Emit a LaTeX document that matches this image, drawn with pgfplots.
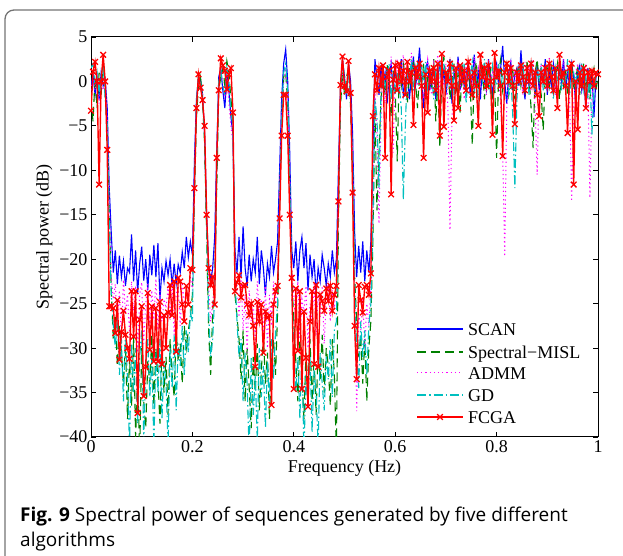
\documentclass[border=0pt]{standalone}
\usepackage{pgfplots}
\pgfplotsset{compat=1.18}
\usepackage{pgfplotstable}
\usepackage{fontspec}
\setmainfont{Liberation Serif}
\newfontfamily\capfont{Open Sans}
\definecolor{mblue}{rgb}{0,0,1}
\definecolor{mgreen}{rgb}{0,0.5,0}
\definecolor{mmag}{rgb}{1,0,1}
\definecolor{mcyan}{rgb}{0,0.75,0.75}
\definecolor{mred}{rgb}{1,0,0}
\definecolor{framegray}{rgb}{0.45,0.45,0.45}

\pgfplotstableread{
x S M A G F
0.000 -0.5 -2.0 -1.0 1.5 -3.3
0.004 0.8 -4.5 0.5 2.0 1.1
0.008 -1.5 0.5 -1.0 -0.5 2.2
0.012 0.5 -3.0 0.8 1.0 0.0
0.016 -2.0 1.0 -2.5 -1.5 -11.6
0.020 1.0 -1.5 0.2 0.5 0.0
0.024 -0.5 2.5 -1.0 1.8 3.0
0.028 0.2 -1.0 0.5 -2.0 0.0
0.032 -3.0 -6.0 -4.0 -5.0 -7.7
0.036 -12.0 -14.5 -13.0 -16.0 -25.3
0.040 -17.1 -23.5 -22.0 -24.0 -25.3
0.044 -21.5 -29.0 -24.5 -27.5 -25.5
0.048 -19.0 -26.5 -22.8 -30.0 -28.3
0.052 -22.8 -32.0 -27.0 -26.5 -24.6
0.056 -19.6 -27.5 -23.5 -33.0 -31.3
0.060 -22.0 -30.5 -29.0 -29.0 -28.2
0.064 -20.2 -34.0 -22.3 -36.0 -25.8
0.068 -23.0 -29.5 -26.0 -28.0 -28.5
0.072 -21.0 -38.0 -24.0 -33.5 -30.0
0.076 -21.5 -31.0 -28.5 -41.0 -31.2
0.080 -17.2 -36.5 -22.5 -29.5 -23.6
0.084 -22.5 -28.5 -25.8 -35.0 -28.7
0.088 -19.0 -40.0 -23.0 -30.0 -23.6
0.092 -23.8 -33.0 -30.5 -38.5 -37.3
0.096 -20.5 -42.0 -24.0 -31.0 -26.8
0.100 -18.6 -30.0 -22.6 -28.0 -25.3
0.104 -22.4 -36.0 -29.5 -40.5 -35.4
0.108 -20.0 -39.0 -25.0 -32.0 -32.1
0.112 -23.5 -31.5 -22.8 -29.0 -23.8
0.116 -19.5 -34.0 -27.5 -35.5 -30.2
0.120 -21.8 -28.5 -23.5 -31.0 -25.3
0.124 -18.4 -36.5 -26.8 -41.0 -31.5
0.128 -22.0 -30.0 -22.2 -30.5 -25.5
0.132 -18.2 -33.5 -28.0 -35.0 -31.5
0.136 -24.6 -38.5 -23.6 -29.0 -24.8
0.140 -21.0 -29.5 -27.0 -38.0 -31.8
0.144 -22.5 -35.0 -24.5 -31.5 -26.3
0.148 -20.2 -31.0 -25.5 -34.0 -30.0
0.152 -21.8 -37.5 -23.0 -41.0 -26.0
0.156 -20.0 -29.0 -26.8 -30.0 -22.9
0.160 -23.0 -33.0 -22.5 -34.5 -26.3
0.164 -20.5 -35.5 -28.5 -28.5 -22.5
0.168 -22.8 -28.0 -24.0 -37.0 -30.4
0.172 -20.6 -31.5 -23.0 -29.5 -22.1
0.176 -21.5 -29.5 -27.5 -32.0 -22.5
0.180 -19.2 -34.0 -22.6 -27.5 -25.1
0.184 -21.0 -27.5 -25.0 -33.0 -27.0
0.188 -17.5 -30.0 -23.8 -28.0 -23.0
0.192 -19.8 -28.0 -24.2 -30.5 -25.1
0.196 -18.0 -26.5 -22.0 -26.0 -21.0
0.200 -19.5 -24.0 -23.5 -27.0 -21.2
0.204 -9.0 -13.0 -10.0 -12.0 -12.0
0.208 -2.0 -4.0 -3.0 -2.5 -3.0
0.212 0.5 -0.5 0.0 0.8 0.8
0.216 0.2 0.5 -0.5 0.0 -0.7
0.220 -1.5 -2.0 -1.0 -2.0 -2.1
0.224 -6.0 -7.0 -5.5 -6.0 -5.0
0.228 -15.0 -17.0 -14.0 -16.0 -15.0
0.232 -20.5 -28.0 -23.0 -26.0 -21.0
0.236 -22.5 -33.0 -27.0 -31.0 -22.9
0.240 -21.0 -26.0 -25.0 -29.0 -22.0
0.244 -17.5 -22.0 -22.0 -24.0 -25.1
0.248 -8.0 -12.0 -9.0 -10.0 -8.6
0.252 0.5 -1.0 -0.5 0.0 -1.0
0.256 1.5 0.5 1.0 1.2 2.6
0.260 -1.0 1.5 0.0 -0.5 1.8
0.264 -3.0 -0.5 -2.0 -1.5 1.2
0.268 0.8 2.3 1.2 1.5 -0.9
0.272 -1.0 1.0 -2.5 0.0 0.8
0.276 -4.0 -2.0 -5.0 -3.5 1.5
0.280 -6.0 -4.0 -7.0 -5.0 -3.5
0.284 -19.0 -24.0 -21.0 -22.0 -23.6
0.288 -21.5 -26.5 -23.0 -27.0 -22.6
0.292 -17.5 -29.0 -26.5 -31.0 -21.8
0.296 -22.0 -33.5 -22.0 -29.0 -24.3
0.300 -16.3 -28.0 -28.0 -36.0 -23.0
0.304 -21.0 -36.0 -24.0 -30.5 -22.9
0.308 -23.0 -30.0 -30.5 -34.0 -25.1
0.312 -19.5 -34.5 -23.5 -42.0 -26.3
0.316 -22.5 -39.0 -27.0 -31.0 -25.0
0.320 -20.0 -31.0 -25.0 -37.5 -27.5
0.324 -21.5 -35.0 -29.5 -33.0 -32.1
0.328 -17.5 -29.5 -22.5 -40.5 -24.8
0.332 -22.8 -37.0 -26.0 -30.0 -27.0
0.336 -19.0 -32.5 -24.5 -35.5 -25.1
0.340 -21.0 -28.5 -28.5 -32.0 -30.5
0.344 -24.0 -34.0 -23.0 -39.0 -25.9
0.348 -20.5 -30.5 -30.0 -31.5 -26.6
0.352 -22.0 -38.0 -24.0 -36.0 -26.3
0.356 -18.5 -31.5 -27.5 -29.0 -36.4
0.360 -21.5 -29.0 -22.5 -33.5 -25.1
0.364 -20.0 -33.0 -25.0 -28.0 -23.6
0.368 -18.0 -26.0 -22.0 -25.0 -23.0
0.372 -10.0 -14.0 -12.0 -13.0 -15.4
0.376 -2.0 -5.0 -3.5 -4.0 -6.1
0.380 2.0 0.5 0.0 1.0 -1.5
0.384 3.6 1.0 1.5 2.0 -1.5
0.388 0.0 -2.5 -1.5 -1.0 -6.1
0.392 -8.0 -12.0 -10.0 -11.0 -15.0
0.396 -19.0 -22.0 -21.0 -24.0 -22.1
0.400 -21.0 -27.0 -24.0 -29.0 -34.6
0.404 -18.0 -31.5 -27.5 -35.0 -23.3
0.408 -22.5 -36.0 -22.5 -31.0 -30.3
0.412 -19.0 -29.0 -29.0 -38.0 -23.6
0.416 -17.5 -33.0 -24.5 -30.0 -34.6
0.420 -21.0 -38.0 -26.0 -42.0 -25.9
0.424 -18.2 -30.5 -23.0 -33.0 -31.1
0.428 -23.5 -34.5 -30.0 -36.5 -36.6
0.432 -19.5 -29.0 -25.0 -31.0 -27.0
0.436 -22.0 -36.0 -27.0 -39.5 -23.6
0.440 -20.0 -31.0 -22.8 -32.5 -31.8
0.444 -24.0 -37.5 -28.5 -35.0 -22.9
0.448 -21.0 -30.0 -24.0 -41.0 -32.1
0.452 -22.5 -33.5 -26.5 -30.5 -24.0
0.456 -19.5 -28.5 -23.0 -34.0 -24.7
0.460 -21.0 -35.0 -29.5 -37.0 -25.8
0.464 -23.0 -30.0 -24.5 -31.0 -23.3
0.468 -20.5 -32.0 -22.5 -33.5 -24.7
0.472 -22.0 -36.5 -27.0 -29.0 -23.0
0.476 -19.0 -29.0 -23.5 -35.5 -25.8
0.480 -21.5 -33.0 -25.5 -28.0 -24.0
0.484 -20.0 -42.0 -22.0 -27.0 -23.0
0.488 -10.0 -16.0 -12.0 -14.0 -13.5
0.492 -1.0 -3.0 -2.0 -1.0 -0.4
0.496 2.5 1.0 1.5 2.0 2.8
0.500 0.5 -1.5 0.0 0.8 -0.5
0.504 -2.0 0.5 -1.0 -1.5 -1.1
0.508 2.0 1.5 2.0 1.0 2.3
0.512 0.0 -3.0 -2.0 -2.5 -1.3
0.516 -6.0 -10.0 -8.0 -9.0 -12.5
0.520 -17.0 -22.0 -24.0 -23.0 -27.5
0.524 -22.0 -27.0 -37.1 -30.0 -33.5
0.528 -18.5 -31.0 -26.0 -34.5 -22.9
0.532 -21.5 -28.5 -28.0 -27.0 -24.6
0.536 -18.0 -34.0 -24.5 -31.0 -26.0
0.540 -22.5 -29.0 -30.0 -28.0 -23.1
0.544 -19.0 -36.0 -25.0 -33.0 -22.9
0.548 -21.5 -30.0 -27.5 -27.5 -24.0
0.552 -18.0 -27.0 -23.0 -25.0 -21.6
0.556 -8.0 -18.0 -14.0 -16.0 -3.9
0.560 2.5 -3.0 -1.0 -2.0 0.8
0.564 0.5 -14.5 -6.0 -4.0 -1.0
0.568 -1.5 -8.0 -16.0 -12.0 1.5
0.572 1.8 -2.0 -4.0 -1.0 -0.5
0.576 -0.5 1.0 2.0 1.5 1.8
0.580 1.0 -1.5 -2.5 -0.5 -8.6
0.584 -2.5 2.0 1.5 0.5 0.5
0.588 0.5 -0.5 -1.0 2.0 1.2
0.592 2.0 -4.0 2.8 -2.0 -12.7
0.596 -1.0 1.2 -8.0 0.8 0.2
0.600 1.5 -1.0 0.5 -1.5 1.8
0.604 -0.5 -9.0 2.5 1.0 -1.0
0.608 0.8 1.5 -1.5 -0.5 2.0
0.612 2.5 -0.5 1.0 -3.0 0.0
0.616 -1.5 2.0 3.0 -13.3 1.2
0.620 0.0 0.5 -0.5 -5.0 -1.5
0.624 1.2 -2.5 2.0 1.5 2.2
0.628 -2.0 1.5 0.0 0.0 0.0
0.632 0.5 -1.0 3.2 2.5 1.0
0.636 2.8 2.2 -1.0 -1.0 -4.9
0.640 -0.5 0.0 1.5 1.0 1.5
0.644 1.0 -3.0 -0.5 2.0 0.5
0.648 3.8 1.0 2.0 -0.5 2.0
0.652 0.0 -0.5 0.5 1.5 -0.5
0.656 -3.0 2.0 -2.0 0.0 -8.6
0.660 1.5 -2.0 1.0 2.2 0.8
0.664 2.2 0.5 2.5 -1.5 -3.5
0.668 -1.0 1.5 0.0 1.0 1.2
0.672 0.8 -1.0 -1.5 0.5 0.0
0.676 1.5 2.5 2.0 -2.0 1.5
0.680 -2.0 -4.5 0.5 1.5 -1.0
0.684 0.5 0.5 3.0 -0.5 2.0
0.688 2.0 -7.5 -1.0 1.8 -6.1
0.692 -0.5 1.0 1.5 0.0 3.1
0.696 1.2 2.8 -0.5 2.0 -5.1
0.700 -1.5 -0.5 2.0 -1.0 1.0
0.704 0.5 1.5 -3.0 1.2 0.0
0.708 2.5 -2.0 -16.7 0.0 2.0
0.712 -2.5 0.0 -4.0 2.5 -0.5
0.716 1.0 2.0 1.5 -1.5 -4.4
0.720 0.0 -1.5 0.5 1.0 1.5
0.724 2.8 1.0 2.5 -0.5 -3.0
0.728 -1.0 -3.5 -1.0 1.5 1.8
0.732 1.5 2.0 1.0 0.0 0.0
0.736 -0.5 0.5 -2.0 2.0 1.2
0.740 0.8 -1.5 2.0 -2.5 -1.0
0.744 2.0 1.8 0.0 1.0 2.2
0.748 -1.5 -0.5 1.5 0.5 0.5
0.752 0.5 -7.2 -1.0 2.2 -1.5
0.756 3.0 1.0 2.8 -1.0 1.0
0.760 -0.5 2.2 0.0 0.5 -0.5
0.764 1.0 -1.0 1.5 -3.0 -5.0
0.768 -2.0 0.5 -0.5 1.5 3.0
0.772 1.8 2.0 2.0 0.0 0.5
0.776 0.0 -2.0 0.5 2.5 1.5
0.780 -1.0 1.0 -1.5 -0.5 -0.5
0.784 2.5 -0.5 2.5 1.0 1.8
0.788 0.5 1.5 0.0 -1.5 0.0
0.792 -1.5 -3.0 1.0 1.8 -6.0
0.796 1.0 0.5 -1.0 0.5 3.2
0.800 2.0 -8.6 2.0 -0.5 0.5
0.804 -0.5 1.0 0.5 2.0 1.2
0.808 1.5 2.5 -2.5 -1.0 -0.5
0.812 4.0 -1.0 -8.0 1.0 -8.4
0.816 0.0 0.5 -19.7 0.0 1.0
0.820 -2.5 1.8 -3.0 2.2 2.0
0.824 1.0 -1.5 1.5 -1.5 0.0
0.828 2.2 0.0 2.5 1.0 1.5
0.832 -1.0 1.2 0.0 -4.0 -0.5
0.836 0.8 -2.0 1.0 -12.0 -4.8
0.840 1.5 0.5 -1.0 -2.0 1.0
0.844 -0.5 2.0 2.0 1.5 0.0
0.848 3.5 -0.5 0.5 0.0 1.8
0.852 0.0 1.0 -1.5 2.0 0.5
0.856 -2.0 -1.5 2.2 -0.5 -1.0
0.860 1.2 2.2 0.0 1.0 1.5
0.864 -0.5 0.5 1.5 -1.5 0.0
0.868 1.8 -3.0 -1.0 2.5 2.0
0.872 0.5 -7.5 2.5 0.5 -0.5
0.876 -1.5 1.0 -3.0 -1.0 1.0
0.880 2.0 2.5 -10.5 1.5 -1.5
0.884 -1.0 0.0 0.5 0.0 -3.9
0.888 1.0 -1.5 2.0 2.0 1.0
0.892 0.0 -5.5 0.0 -1.0 0.0
0.896 2.5 1.0 1.5 1.0 1.5
0.900 -1.5 2.0 -1.0 -0.5 -0.5
0.904 1.0 -0.5 2.8 2.0 2.0
0.908 -0.5 1.5 0.0 0.5 0.5
0.912 2.0 -1.0 1.0 -2.0 -1.0
0.916 0.5 0.5 -1.5 1.5 1.5
0.920 -2.0 2.0 2.0 0.0 -3.0
0.924 1.5 -2.0 0.5 2.2 3.0
0.928 0.0 1.0 -1.0 -1.0 0.5
0.932 2.5 -0.5 2.5 1.0 1.0
0.936 -1.0 1.5 0.0 0.0 -0.5
0.940 1.0 -1.5 1.5 2.5 -5.8
0.944 -0.5 0.5 -2.0 -1.5 1.5
0.948 2.0 2.0 -13.5 0.5 2.0
0.952 0.5 -1.0 -3.0 1.0 -11.6
0.956 -2.5 0.5 1.0 -0.5 0.0
0.960 1.0 1.5 2.0 1.5 -5.4
0.964 1.8 -1.5 -0.5 0.0 1.0
0.968 -1.0 1.0 1.5 2.0 -0.5
0.972 0.5 2.0 -1.0 -1.0 1.5
0.976 -3.0 -0.5 2.0 0.5 -3.0
0.980 1.5 1.0 0.0 -2.0 1.0
0.984 -0.5 -2.0 -13.1 1.0 0.0
0.988 1.0 0.5 -2.0 -6.0 1.2
0.992 -4.0 1.5 1.0 -1.0 -0.5
0.996 0.5 -1.0 0.5 0.5 1.0
1.000 1.0 0.5 1.5 1.0 0.8
}\datatab

\begin{document}
\begin{tikzpicture}[x=1pt,y=1pt]
\path[use as bounding box] (0,0) rectangle (623,556);
\draw[framegray, line width=1.3pt, rounded corners=9pt] (5,-30) -- (5,546) -- (680,546);
\begin{axis}[
  at={(91pt,119pt)}, anchor=south west,
  width=507pt, height=400pt, scale only axis,
  xmin=0, xmax=1, ymin=-40, ymax=5,
  axis line style={line width=1pt, black},
  tick style={line width=0.8pt, black},
  major tick length=5pt,
  tick align=inside,
  xtick={0,0.2,0.4,0.6,0.8,1},
  xticklabels={0,0.2,0.4,0.6,0.8,1},
  ytick={-40,-35,-30,-25,-20,-15,-10,-5,0,5},
  yticklabels={−40,−35,−30,−25,−20,−15,−10,−5,0,5},
  ticklabel style={font=\fontsize{18}{20}\selectfont},
  label style={font=\fontsize{18}{20}\selectfont},
  xlabel={Frequency (Hz)},
  ylabel={Spectral power (dB)},
]
\addplot[draw=mblue, line width=1.1pt] table[x=x,y=S] {\datatab};
\addplot[draw=mgreen, line width=1.1pt, dash pattern=on 9pt off 5pt] table[x=x,y=M] {\datatab};
\addplot[draw=mmag, line width=1.0pt, dash pattern=on 1.2pt off 3pt] table[x=x,y=A] {\datatab};
\addplot[draw=mcyan, line width=1.1pt, dash pattern=on 9pt off 3pt on 1.5pt off 3pt] table[x=x,y=G] {\datatab};
\addplot[draw=mred, line width=1.4pt, mark=x, mark size=4pt, mark options={solid, draw=mred, line width=1.3pt}] table[x=x,y=F] {\datatab};
% legend samples (drawn through the axis)
\addplot[forget plot, draw=mblue, line width=1.1pt] coordinates {(0.643,-27.85) (0.7337,-27.85)};
\addplot[forget plot, draw=mgreen, line width=1.1pt, dash pattern=on 9pt off 5pt] coordinates {(0.643,-30.44) (0.7337,-30.44)};
\addplot[forget plot, draw=mmag, line width=1.0pt, dash pattern=on 1.2pt off 3pt] coordinates {(0.643,-32.8) (0.7337,-32.8)};
\addplot[forget plot, draw=mcyan, line width=1.1pt, dash pattern=on 9pt off 3pt on 1.5pt off 3pt] coordinates {(0.643,-35.28) (0.7337,-35.28)};
\addplot[forget plot, draw=mred, line width=1.4pt, mark=x, mark size=4pt, mark options={solid, draw=mred, line width=1.3pt}, mark indices={2}] coordinates {(0.643,-37.75) (0.6884,-37.75) (0.7337,-37.75)};
\node[anchor=base west, inner sep=0pt, font=\fontsize{18}{20}\selectfont] at (axis cs:0.7436,-28.55) {SCAN};
\node[anchor=base west, inner sep=0pt, font=\fontsize{18}{20}\selectfont] at (axis cs:0.7436,-31.14) {Spectral−MISL};
\node[anchor=base west, inner sep=0pt, font=\fontsize{18}{20}\selectfont] at (axis cs:0.7436,-33.5) {ADMM};
\node[anchor=base west, inner sep=0pt, font=\fontsize{18}{20}\selectfont] at (axis cs:0.7436,-35.98) {GD};
\node[anchor=base west, inner sep=0pt, font=\fontsize{18}{20}\selectfont] at (axis cs:0.7436,-38.45) {FCGA};
\end{axis}
\node[anchor=base west, inner sep=0pt, font=\capfont\fontsize{19}{25}\selectfont] at (20,34) {\textbf{Fig. 9} Spectral power of sequences generated by five different};
\node[anchor=base west, inner sep=0pt, font=\capfont\fontsize{19}{25}\selectfont] at (20,9) {algorithms};
\end{tikzpicture}
\end{document}
